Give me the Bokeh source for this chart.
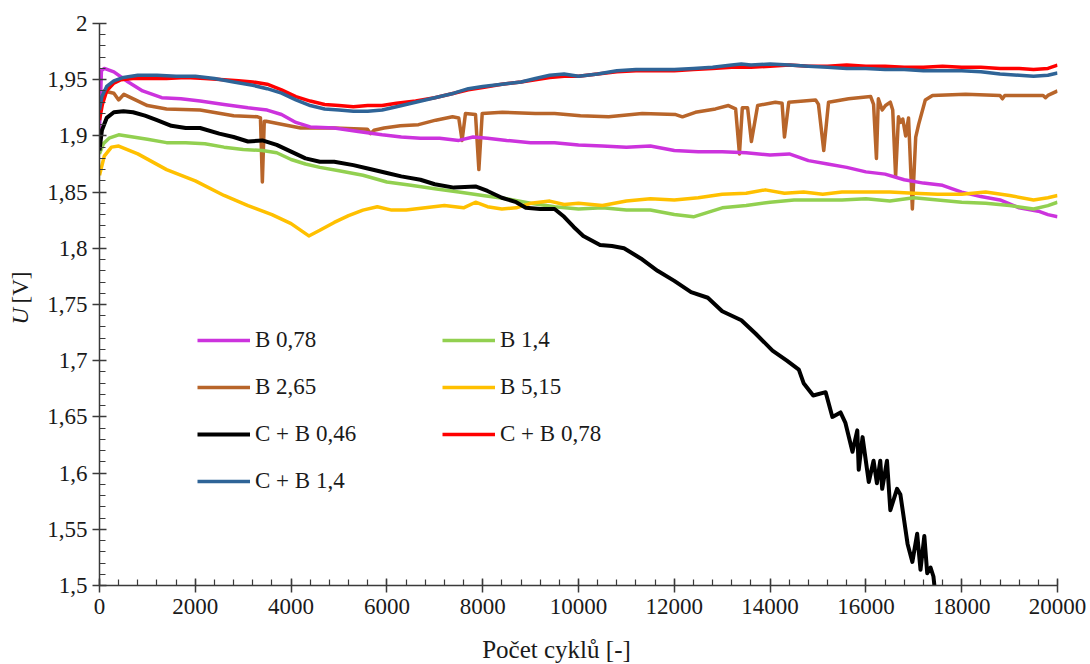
from math import pi

from bokeh.plotting import figure
from bokeh.models import Range1d, FixedTicker, Legend, LegendItem, Label
from bokeh.embed import file_html
from bokeh.resources import INLINE

# ---- data: cell voltage U [V] versus number of cycles ----
x_ticks = [0, 2000, 4000, 6000, 8000, 10000, 12000, 14000, 16000, 18000, 20000]
y_ticks = [1.5, 1.55, 1.6, 1.65, 1.7, 1.75, 1.8, 1.85, 1.9, 1.95, 2.0]
y_tick_labels = ["1,5", "1,55", "1,6", "1,65", "1,7", "1,75", "1,8", "1,85", "1,9", "1,95", "2"]

b078_x = [0, 40, 100, 300, 600, 900, 1300, 1700, 2100, 2600, 3100, 3500, 3800, 4100, 4400,
          4900, 5400, 5900, 6300, 6700, 7100, 7500, 7800, 8100, 8500, 9000, 9500, 10000, 10500,
          11000, 11500, 12000, 12500, 13000, 13500, 14000, 14400, 14800, 15200, 15600, 16000,
          16400, 16800, 17200, 17600, 18000, 18400, 18800, 19200, 19600, 19800, 20000]
b078_u = [1.905, 1.958, 1.960, 1.957, 1.948, 1.940, 1.934, 1.933, 1.931, 1.928, 1.925, 1.923,
          1.919, 1.912, 1.908, 1.907, 1.904, 1.901, 1.899, 1.898, 1.898, 1.896, 1.899, 1.898,
          1.896, 1.894, 1.894, 1.892, 1.891, 1.890, 1.891, 1.887, 1.886, 1.886, 1.885, 1.883,
          1.884, 1.878, 1.875, 1.872, 1.868, 1.866, 1.861, 1.858, 1.856, 1.850, 1.846, 1.843,
          1.836, 1.833, 1.830, 1.828]

b14_x = [0, 80, 200, 400, 700, 1000, 1400, 1800, 2200, 2600, 3000, 3400, 3700, 4000, 4300,
         4600, 5000, 5500, 6000, 6500, 7000, 7500, 8000, 8500, 9000, 9500, 10000, 10500, 11000,
         11500, 12000, 12400, 12700, 13000, 13500, 14000, 14500, 15000, 15500, 16000, 16500,
         17000, 17500, 18000, 18500, 19000, 19500, 19800, 20000]
b14_u = [1.884, 1.893, 1.898, 1.901, 1.899, 1.897, 1.894, 1.894, 1.893, 1.890, 1.888, 1.887,
         1.885, 1.879, 1.875, 1.872, 1.869, 1.865, 1.859, 1.856, 1.853, 1.850, 1.847, 1.844,
         1.840, 1.837, 1.835, 1.836, 1.834, 1.834, 1.830, 1.828, 1.832, 1.836, 1.838, 1.841,
         1.843, 1.843, 1.843, 1.844, 1.842, 1.845, 1.843, 1.841, 1.840, 1.838, 1.835, 1.838,
         1.841]

b265_x = [0, 90, 300, 400, 510, 1000, 1400, 2100, 2800, 3300, 3360, 3400, 3440, 3480, 3850,
          4200, 4900, 5590, 5660, 5730, 5940, 6280, 6660, 7020, 7370, 7500, 7570, 7640, 7850,
          7920, 7990, 8410, 9100, 9500, 10040, 10630, 11330, 12030, 12170, 12440, 12860, 13130,
          13280, 13360, 13420, 13530, 13610, 13740, 14110, 14250, 14300, 14390, 14950, 15010,
          15120, 15220, 15640, 16100, 16160, 16220, 16260, 16340, 16410, 16510, 16560, 16620,
          16680, 16720, 16770, 16830, 16890, 16970, 17040, 17100, 17240, 17390, 18080, 18800,
          18850, 18900, 19120, 19700, 19750, 19800, 20000]
b265_u = [1.920, 1.940, 1.938, 1.932, 1.937, 1.927, 1.924, 1.923, 1.918, 1.917, 1.916, 1.859,
          1.913, 1.913, 1.910, 1.907, 1.907, 1.906, 1.902, 1.905, 1.907, 1.909, 1.910, 1.914,
          1.917, 1.916, 1.896, 1.920, 1.919, 1.870, 1.920, 1.921, 1.920, 1.920, 1.918, 1.917,
          1.920, 1.919, 1.917, 1.921, 1.924, 1.927, 1.924, 1.884, 1.925, 1.925, 1.895, 1.927,
          1.930, 1.929, 1.899, 1.930, 1.932, 1.928, 1.887, 1.930, 1.933, 1.935, 1.928, 1.880,
          1.933, 1.923, 1.927, 1.930, 1.923, 1.864, 1.917, 1.912, 1.915, 1.900, 1.916, 1.835,
          1.899, 1.910, 1.932, 1.936, 1.937, 1.936, 1.933, 1.936, 1.936, 1.936, 1.934, 1.936,
          1.940]

b515_x = [0, 100, 250, 400, 800, 1400, 2000, 2600, 3100, 3600, 4000, 4370, 4600, 4900, 5200,
          5500, 5800, 6100, 6400, 6800, 7200, 7600, 7850, 8100, 8400, 8700, 9000, 9400, 9700,
          10000, 10500, 11000, 11500, 12000, 12500, 13000, 13500, 13900, 14300, 14700, 15100,
          15500, 16000, 16500, 17000, 17500, 18000, 18500, 19000, 19500, 19800, 20000]
b515_u = [1.865, 1.882, 1.890, 1.891, 1.884, 1.870, 1.860, 1.847, 1.838, 1.830, 1.822, 1.811,
          1.816, 1.823, 1.829, 1.834, 1.837, 1.834, 1.834, 1.836, 1.838, 1.836, 1.841, 1.837,
          1.835, 1.836, 1.840, 1.842, 1.839, 1.840, 1.838, 1.842, 1.844, 1.843, 1.845, 1.848,
          1.849, 1.852, 1.849, 1.850, 1.848, 1.850, 1.850, 1.850, 1.849, 1.848, 1.848, 1.850,
          1.847, 1.843, 1.845, 1.847]

cb046_x = [0, 50, 150, 300, 500, 700, 950, 1200, 1500, 1800, 2100, 2500, 2800, 3100, 3400,
           3700, 4000, 4300, 4600, 4900, 5300, 5600, 6000, 6300, 6700, 7000, 7400, 7850, 8100,
           8400, 8700, 8900, 9200, 9500, 9700, 9900, 10100, 10450, 10700, 10950, 11300, 11650,
           12000, 12350, 12700, 13000, 13400, 13700, 14050, 14350, 14600, 14700, 14900, 15160,
           15300, 15470, 15570, 15720, 15820, 15850, 15930, 16060, 16160, 16230, 16300, 16340,
           16440, 16510, 16650, 16720, 16870, 16970, 17070, 17140, 17220, 17280, 17350, 17410,
           17430]
cb046_u = [1.887, 1.905, 1.916, 1.921, 1.922, 1.921, 1.918, 1.914, 1.909, 1.907, 1.907, 1.902,
           1.899, 1.895, 1.896, 1.892, 1.886, 1.880, 1.877, 1.877, 1.874, 1.871, 1.867, 1.864,
           1.861, 1.857, 1.854, 1.855, 1.851, 1.845, 1.841, 1.836, 1.835, 1.835, 1.828, 1.819,
           1.811, 1.803, 1.802, 1.800, 1.791, 1.780, 1.771, 1.761, 1.756, 1.744, 1.736, 1.724,
           1.709, 1.700, 1.692, 1.680, 1.669, 1.672, 1.650, 1.654, 1.645, 1.619, 1.638, 1.603,
           1.632, 1.592, 1.611, 1.591, 1.611, 1.586, 1.611, 1.567, 1.586, 1.581, 1.537, 1.521,
           1.546, 1.514, 1.544, 1.511, 1.516, 1.508, 1.500]

cb078_x = [0, 60, 150, 300, 450, 700, 1000, 1400, 1800, 2200, 2600, 2900, 3200, 3500, 3800,
           4100, 4400, 4700, 5000, 5300, 5600, 5900, 6200, 6600, 7000, 7400, 7700, 8000, 8400,
           8800, 9100, 9400, 9700, 10000, 10400, 10800, 11200, 11600, 12000, 12400, 12800,
           13200, 13600, 14000, 14400, 14800, 15200, 15600, 16000, 16400, 16800, 17200, 17600,
           18000, 18400, 18800, 19200, 19500, 19800, 20000]
cb078_u = [1.914, 1.928, 1.940, 1.947, 1.950, 1.951, 1.951, 1.951, 1.952, 1.951, 1.950, 1.949,
           1.948, 1.946, 1.941, 1.935, 1.931, 1.928, 1.927, 1.926, 1.927, 1.927, 1.929, 1.931,
           1.934, 1.938, 1.941, 1.943, 1.946, 1.948, 1.950, 1.952, 1.953, 1.953, 1.955, 1.957,
           1.958, 1.958, 1.958, 1.959, 1.960, 1.961, 1.961, 1.962, 1.963, 1.962, 1.962, 1.963,
           1.962, 1.962, 1.961, 1.961, 1.962, 1.961, 1.961, 1.960, 1.960, 1.959, 1.960, 1.963]

cb14_x = [0, 50, 150, 300, 500, 800, 1200, 1600, 2000, 2400, 2800, 3200, 3500, 3800, 4100,
          4400, 4700, 5000, 5300, 5600, 5900, 6200, 6600, 7000, 7400, 7700, 8000, 8400, 8800,
          9100, 9400, 9700, 10000, 10400, 10800, 11200, 11600, 12000, 12400, 12800, 13200,
          13400, 13600, 14000, 14400, 14800, 15200, 15600, 16000, 16400, 16800, 17200, 17600,
          18000, 18400, 18800, 19200, 19500, 19800, 20000]
cb14_u = [1.923, 1.935, 1.944, 1.949, 1.952, 1.954, 1.954, 1.953, 1.953, 1.951, 1.948, 1.945,
          1.942, 1.938, 1.932, 1.927, 1.924, 1.923, 1.922, 1.922, 1.923, 1.926, 1.930, 1.934,
          1.938, 1.942, 1.944, 1.946, 1.948, 1.951, 1.954, 1.955, 1.953, 1.955, 1.958, 1.959,
          1.959, 1.959, 1.960, 1.961, 1.963, 1.964, 1.963, 1.964, 1.963, 1.962, 1.961, 1.960,
          1.960, 1.959, 1.959, 1.958, 1.958, 1.958, 1.957, 1.955, 1.954, 1.953, 1.954, 1.956]

# (label, x, U, colour); order follows the legend
series = [
    ("B 0,78", b078_x, b078_u, "#CC33DD"),
    ("B 1,4", b14_x, b14_u, "#92D050"),
    ("B 2,65", b265_x, b265_u, "#B8652A"),
    ("B 5,15", b515_x, b515_u, "#FFC000"),
    ("C + B 0,46", cb046_x, cb046_u, "#000000"),
    ("C + B 0,78", cb078_x, cb078_u, "#FF0000"),
    ("C + B 1,4", cb14_x, cb14_u, "#2F6497"),
]
for name, xs, us, _ in series:
    assert len(xs) == len(us), name

FONT = "Liberation Serif"
TEXT_COLOR = "#1a1a1a"
AXIS_COLOR = "#3a3a3a"
FS = "23px"

p = figure(width=1090, height=664, output_backend="svg", toolbar_location=None,
           x_range=Range1d(0, 20000), y_range=Range1d(1.5, 2.0),
           min_border_left=99, min_border_right=33, min_border_top=23, min_border_bottom=79)
p.outline_line_color = None
p.background_fill_color = "white"
p.border_fill_color = "white"
p.xgrid.visible = False
p.ygrid.visible = False

# draw order: later series on top
draw_order = [2, 0, 1, 3, 4, 5, 6]
renderers = {}
for i in draw_order:
    name, xs, us, color = series[i]
    lw = 4 if name == "C + B 0,46" else 3.5
    renderers[name] = p.line(xs, us, line_color=color, line_width=lw, line_join="round")

# axes
p.xaxis.ticker = FixedTicker(ticks=x_ticks, minor_ticks=list(range(0, 20001, 400)))
p.yaxis.ticker = FixedTicker(ticks=y_ticks, minor_ticks=[1.5 + 0.01 * k for k in range(51)])
p.yaxis.major_label_overrides = {t: s for t, s in zip(y_ticks, y_tick_labels)}
for ax in (p.xaxis[0], p.yaxis[0]):
    ax.axis_line_color = AXIS_COLOR
    ax.axis_line_width = 1.5
    ax.major_tick_line_color = AXIS_COLOR
    ax.major_tick_line_width = 1.5
    ax.minor_tick_line_color = AXIS_COLOR
    ax.minor_tick_line_width = 1.2
    ax.major_tick_in = 7
    ax.major_tick_out = 7
    ax.minor_tick_in = 6
    ax.minor_tick_out = 0
    ax.major_label_text_font = FONT
    ax.major_label_text_font_size = FS
    ax.major_label_text_color = TEXT_COLOR
p.xaxis.major_label_standoff = 6
p.yaxis.major_label_standoff = 5

title_style = dict(x_units="screen", y_units="screen", text_font=FONT, text_color=TEXT_COLOR)

# x axis title, in its own panel below the tick labels
p.add_layout(Label(x=457, y=-6, text="Počet cyklů [-]", text_align="center",
                   text_baseline="middle", text_font_size="25px", **title_style), "below")

# y axis title: italic quantity symbol U (left panel) followed by the unit; the unit label
# lives in the narrow right panel and is shifted back to the left edge of the canvas
p.add_layout(Label(x=1, y=261, text="U", angle=pi / 2, text_font_style="italic",
                   text_font_size=FS, text_align="left", text_baseline="middle",
                   **title_style), "left")
p.add_layout(Label(x=-1037, y=282, text="[V]", angle=pi / 2, text_font_size=FS,
                   text_align="left", text_baseline="middle", **title_style), "right")

# legend in two columns
def make_legend(names, loc):
    leg = Legend(items=[LegendItem(label=n, renderers=[renderers[n]]) for n in names],
                 location=loc, orientation="vertical", padding=0, margin=0, spacing=21,
                 glyph_width=53, glyph_height=20, label_height=26, label_standoff=5,
                 label_text_font=FONT, label_text_font_size=FS, label_text_color=TEXT_COLOR,
                 border_line_color=None, background_fill_alpha=0)
    p.add_layout(leg)

make_legend(["B 0,78", "B 2,65", "C + B 0,46", "C + B 1,4"], (98, 91))
make_legend(["B 1,4", "B 5,15", "C + B 0,78"], (343, 138))

open("out.html", "w").write(file_html(p, INLINE))
